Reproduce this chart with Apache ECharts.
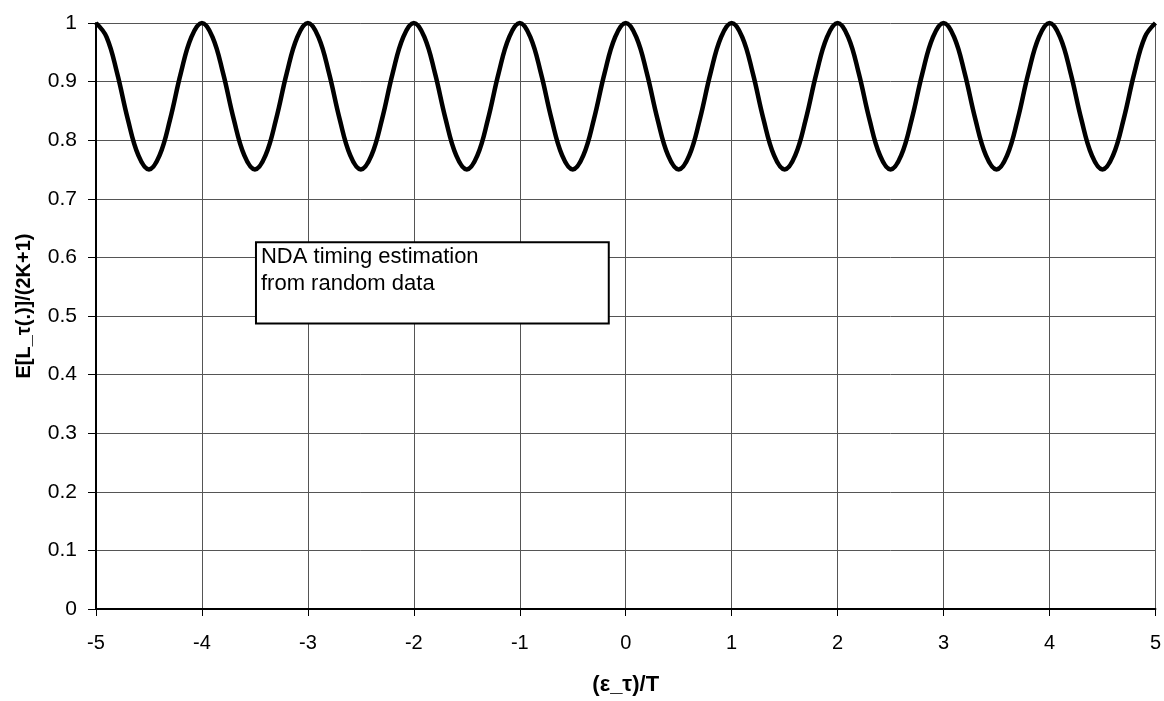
<!DOCTYPE html>
<html>
<head>
<meta charset="utf-8">
<script src="https://cdn.jsdelivr.net/npm/echarts@6/dist/echarts.min.js"></script>
<style>html,body{margin:0;padding:0;background:#fff}#c{width:1164px;height:701px}</style>
</head>
<body>
<div id="c"></div>
<script>
// sample positions: -5 .. 5 in steps of 0.1
const xStart = -5, xStep = 0.1;
// curve values (max 1 at integers, min 0.75 at half-integers)
const yValues = [
 1, 0.976, 0.914, 0.836, 0.774, 0.75, 0.774, 0.836, 0.914, 0.976,
 1, 0.976, 0.914, 0.836, 0.774, 0.75, 0.774, 0.836, 0.914, 0.976,
 1, 0.976, 0.914, 0.836, 0.774, 0.75, 0.774, 0.836, 0.914, 0.976,
 1, 0.976, 0.914, 0.836, 0.774, 0.75, 0.774, 0.836, 0.914, 0.976,
 1, 0.976, 0.914, 0.836, 0.774, 0.75, 0.774, 0.836, 0.914, 0.976,
 1, 0.976, 0.914, 0.836, 0.774, 0.75, 0.774, 0.836, 0.914, 0.976,
 1, 0.976, 0.914, 0.836, 0.774, 0.75, 0.774, 0.836, 0.914, 0.976,
 1, 0.976, 0.914, 0.836, 0.774, 0.75, 0.774, 0.836, 0.914, 0.976,
 1, 0.976, 0.914, 0.836, 0.774, 0.75, 0.774, 0.836, 0.914, 0.976,
 1, 0.976, 0.914, 0.836, 0.774, 0.75, 0.774, 0.836, 0.914, 0.976,
 1
];
const xAxisTitle = '(\u03b5_\u03c4)/T';
const yAxisTitle = 'E[L_\u03c4(.)]/(2K+1)';
const noteLines = ['NDA timing estimation', 'from random data'];
// note box corners in data space [x, y]
const noteTopLeft = [-3.49, 0.626];
const noteBottomRight = [-0.16, 0.487];

const data = yValues.map((v, i) => [+(xStart + i * xStep).toFixed(2), v]);
const FONT = '"Liberation Sans", Arial, sans-serif';

const chart = echarts.init(document.getElementById('c'), null, {renderer: 'canvas'});
chart.setOption({
  animation: false,
  backgroundColor: '#fff',
  grid: {left: 96, right: 8, top: 23, bottom: 89, containLabel: false},
  xAxis: {
    type: 'value', min: -5, max: 5, interval: 1,
    name: xAxisTitle, nameLocation: 'middle', nameGap: 65,
    nameTextStyle: {fontFamily: FONT, fontSize: 22, fontWeight: 'bold', color: '#000'},
    axisLine: {show: true, onZero: false, lineStyle: {color: '#000', width: 2}},
    axisTick: {show: true, length: 7, lineStyle: {color: '#000', width: 1}},
    axisLabel: {fontFamily: FONT, fontSize: 20, color: '#000', margin: 24},
    splitLine: {show: true, lineStyle: {color: '#555', width: 1}}
  },
  yAxis: {
    type: 'value', min: 0, max: 1, interval: 0.1,
    name: yAxisTitle, nameLocation: 'middle', nameGap: 62, nameRotate: 90,
    nameTextStyle: {fontFamily: FONT, fontSize: 20, fontWeight: 'bold', color: '#000', padding: [0, 0, 0, 20]},
    axisLine: {show: true, onZero: false, lineStyle: {color: '#000', width: 2}},
    axisTick: {show: true, length: 8, lineStyle: {color: '#000', width: 1}},
    axisLabel: {fontFamily: FONT, fontSize: 21, color: '#000', margin: 19},
    splitLine: {show: true, lineStyle: {color: '#555', width: 1}}
  },
  series: [{
    type: 'line', data: data, smooth: 0.4, symbol: 'none',
    lineStyle: {color: '#000', width: 4.5}, clip: false, z: 3
  }]
});

const p1 = chart.convertToPixel({gridIndex: 0}, noteTopLeft);
const p2 = chart.convertToPixel({gridIndex: 0}, noteBottomRight);
chart.setOption({
  graphic: [{
    type: 'group', z: 100,
    children: [
      {type: 'rect', shape: {x: p1[0], y: p1[1], width: p2[0] - p1[0], height: p2[1] - p1[1]},
       style: {fill: '#fff', stroke: '#000', lineWidth: 2}},
      {type: 'text', x: p1[0] + 5, y: p1[1] + 1,
       style: {text: noteLines.join('\n'), font: '22px ' + FONT, fill: '#000', lineHeight: 27}}
    ]
  }]
});
</script>
</body>
</html>
